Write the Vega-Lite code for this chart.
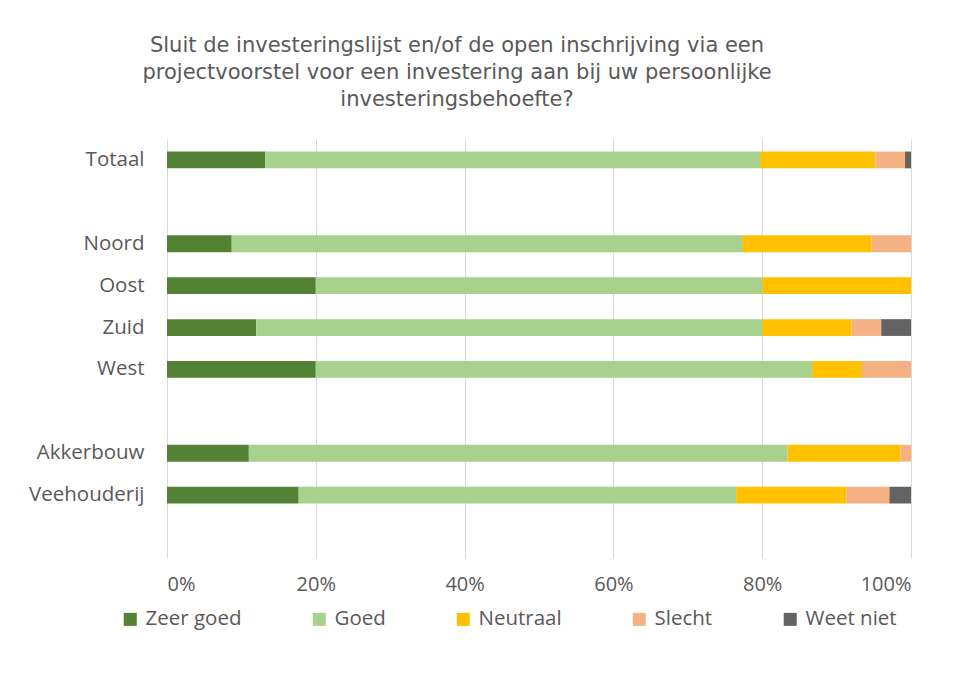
{
  "$schema": "https://vega.github.io/schema/vega-lite/v6.json",
  "width": 744,
  "height": 419,
  "autosize": {"type": "none"},
  "padding": {"left": 167, "top": 139, "right": 45, "bottom": 115},
  "background": "white",
  "title": {
    "text": ["Sluit de investeringslijst  en/of de open inschrijving  via een", "projectvoorstel voor een investering aan bij uw persoonlijke", "investeringsbehoefte?"],
    "font": "DejaVu Sans",
    "fontSize": 21,
    "fontWeight": "normal",
    "color": "#595959",
    "lineHeight": 27,
    "anchor": "middle",
    "dx": -82,
    "offset": 29
  },
  "data": {
    "values": [
      {"cat": "Totaal", "resp": "Zeer goed", "o": 1, "v": 13.2},
      {"cat": "Totaal", "resp": "Goed", "o": 2, "v": 66.5},
      {"cat": "Totaal", "resp": "Neutraal", "o": 3, "v": 15.5},
      {"cat": "Totaal", "resp": "Slecht", "o": 4, "v": 4.0},
      {"cat": "Totaal", "resp": "Weet niet", "o": 5, "v": 0.8},
      {"cat": "Noord", "resp": "Zeer goed", "o": 1, "v": 8.7},
      {"cat": "Noord", "resp": "Goed", "o": 2, "v": 68.6},
      {"cat": "Noord", "resp": "Neutraal", "o": 3, "v": 17.4},
      {"cat": "Noord", "resp": "Slecht", "o": 4, "v": 5.3},
      {"cat": "Noord", "resp": "Weet niet", "o": 5, "v": 0},
      {"cat": "Oost", "resp": "Zeer goed", "o": 1, "v": 20},
      {"cat": "Oost", "resp": "Goed", "o": 2, "v": 60},
      {"cat": "Oost", "resp": "Neutraal", "o": 3, "v": 20},
      {"cat": "Oost", "resp": "Slecht", "o": 4, "v": 0},
      {"cat": "Oost", "resp": "Weet niet", "o": 5, "v": 0},
      {"cat": "Zuid", "resp": "Zeer goed", "o": 1, "v": 12},
      {"cat": "Zuid", "resp": "Goed", "o": 2, "v": 68},
      {"cat": "Zuid", "resp": "Neutraal", "o": 3, "v": 12},
      {"cat": "Zuid", "resp": "Slecht", "o": 4, "v": 4},
      {"cat": "Zuid", "resp": "Weet niet", "o": 5, "v": 4},
      {"cat": "West", "resp": "Zeer goed", "o": 1, "v": 20},
      {"cat": "West", "resp": "Goed", "o": 2, "v": 66.7},
      {"cat": "West", "resp": "Neutraal", "o": 3, "v": 6.7},
      {"cat": "West", "resp": "Slecht", "o": 4, "v": 6.6},
      {"cat": "West", "resp": "Weet niet", "o": 5, "v": 0},
      {"cat": "Akkerbouw", "resp": "Zeer goed", "o": 1, "v": 11.0},
      {"cat": "Akkerbouw", "resp": "Goed", "o": 2, "v": 72.4},
      {"cat": "Akkerbouw", "resp": "Neutraal", "o": 3, "v": 15.2},
      {"cat": "Akkerbouw", "resp": "Slecht", "o": 4, "v": 1.4},
      {"cat": "Akkerbouw", "resp": "Weet niet", "o": 5, "v": 0},
      {"cat": "Veehouderij", "resp": "Zeer goed", "o": 1, "v": 17.7},
      {"cat": "Veehouderij", "resp": "Goed", "o": 2, "v": 58.8},
      {"cat": "Veehouderij", "resp": "Neutraal", "o": 3, "v": 14.8},
      {"cat": "Veehouderij", "resp": "Slecht", "o": 4, "v": 5.8},
      {"cat": "Veehouderij", "resp": "Weet niet", "o": 5, "v": 2.9}
    ]
  },
  "mark": {"type": "bar"},
  "encoding": {
    "y": {
      "field": "cat",
      "type": "nominal",
      "title": null,
      "scale": {
        "domain": ["Totaal", "_1", "Noord", "Oost", "Zuid", "West", "_2", "Akkerbouw", "Veehouderij", "_3"],
        "paddingInner": 0.6,
        "paddingOuter": 0.3
      },
      "axis": {
        "labelExpr": "indexof(datum.label, '_') == 0 ? '' : datum.label",
        "ticks": false,
        "domain": false,
        "grid": false,
        "labelPadding": 23,
        "labelFont": "Open Sans",
        "labelFontSize": 20.5,
        "labelColor": "#595959"
      }
    },
    "x": {
      "field": "v",
      "type": "quantitative",
      "stack": "normalize",
      "title": null,
      "scale": {"domain": [0, 1], "nice": false},
      "axis": {
        "format": ".0%",
        "values": [0, 0.2, 0.4, 0.6, 0.8, 1],
        "ticks": false,
        "domain": false,
        "grid": true,
        "gridColor": "#d9d9d9",
        "gridWidth": 1,
        "labelPadding": 16,
        "labelFont": "Open Sans",
        "labelFontSize": 20,
        "labelColor": "#595959"
      }
    },
    "color": {
      "field": "resp",
      "type": "nominal",
      "title": null,
      "scale": {
        "domain": ["Zeer goed", "Goed", "Neutraal", "Slecht", "Weet niet"],
        "range": ["#548235", "#A9D18E", "#FFC000", "#F4B183", "#636363"]
      },
      "legend": {
        "orient": "none",
        "legendX": -47,
        "legendY": 470,
        "direction": "horizontal",
        "symbolType": "square",
        "symbolSize": 169,
        "symbolStrokeWidth": 0,
        "columnPadding": 67,
        "labelOffset": 5,
        "labelFont": "Open Sans",
        "labelFontSize": 20.5,
        "labelColor": "#595959"
      }
    },
    "order": {"field": "o", "type": "quantitative"}
  },
  "config": {"view": {"stroke": null}}
}
